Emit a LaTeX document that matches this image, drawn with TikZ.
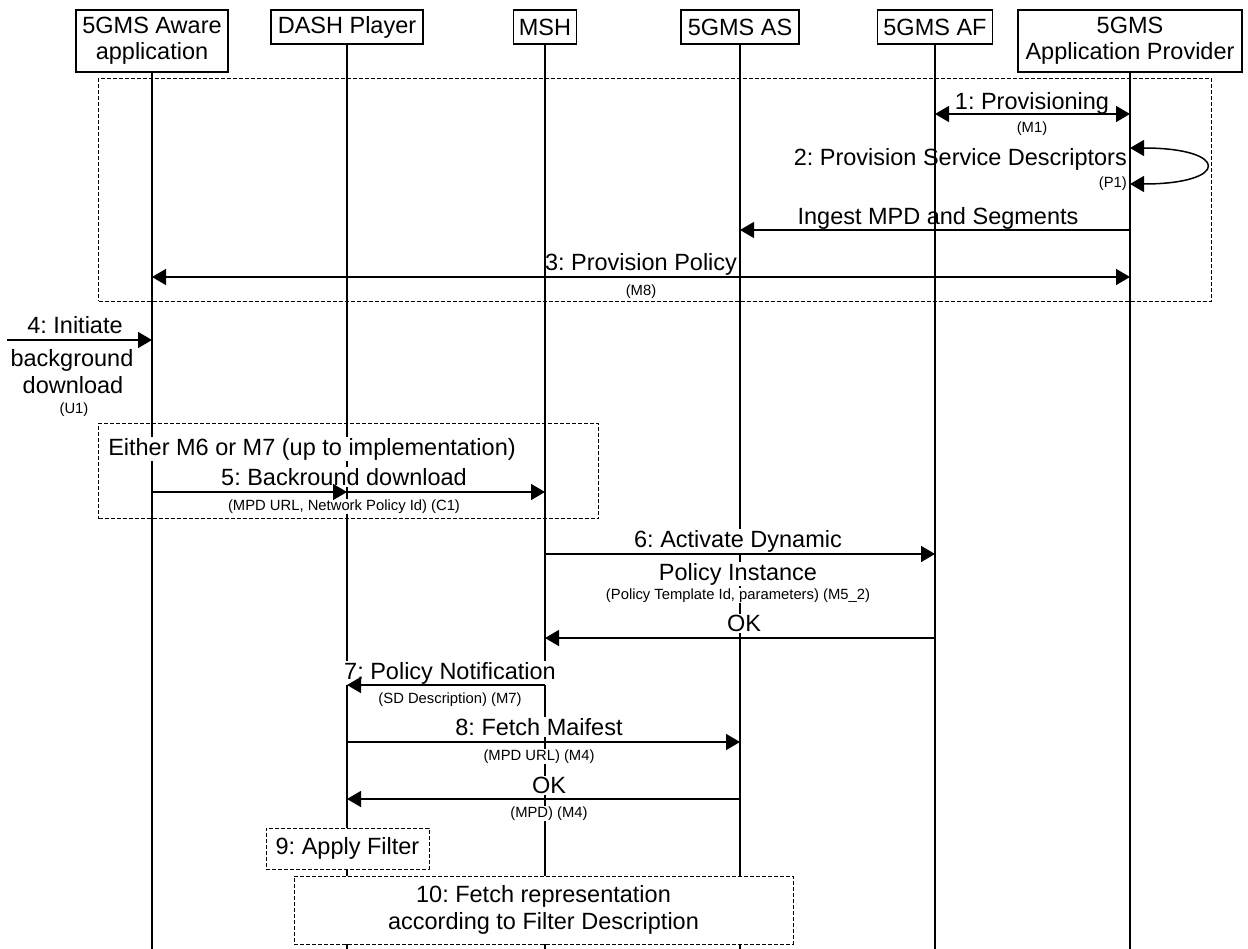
\documentclass[tikz,border=0pt]{standalone}
\usepackage{fontspec}
\setmainfont{Liberation Sans}
\usetikzlibrary{arrows.meta}
\newcommand\lblfont{\fontsize{23.5}{27}\selectfont}
\newcommand\notefont{\fontsize{14.8}{17}\selectfont}
\frenchspacing

\begin{document}
\begin{tikzpicture}[x=1pt,y=-1pt,
  head/.style={draw, line width=1.2pt, font=\lblfont, align=center, anchor=north, inner sep=0pt},
  life/.style={line width=1.2pt},
  tip/.tip={Triangle[length=14pt,width=16pt]},
  msg/.style={line width=1.5pt, -tip},
  twoway/.style={line width=1.5pt, tip-tip},
  frame/.style={draw, line width=1pt, dash pattern=on 4pt off 2pt},
  lbl/.style={font=\lblfont, anchor=base, inner sep=0pt},
  note/.style={font=\notefont, anchor=base, inner sep=0pt},
  cover/.style={fill=white, inner xsep=1pt, inner ysep=1pt},
  actbox/.style={frame, fill=white, font=\lblfont, align=center, inner sep=0pt}
]
\useasboundingbox (0,0) rectangle (1248,949);

% participants
\node[head, minimum width=152, minimum height=62] (app) at (152,9.5) {5GMS Aware\\[-1pt]application};
\node[head, minimum width=152, minimum height=34] (dash) at (347,9.5) {DASH Player};
\node[head, minimum width=63,  minimum height=34] (msh) at (545,9.5) {MSH};
\node[head, minimum width=118, minimum height=34] (as) at (740,9.5) {5GMS AS};
\node[head, minimum width=115, minimum height=34] (af) at (935,9.5) {5GMS AF};
\node[head, minimum width=224, minimum height=62] (ap) at (1130,9.5) {5GMS\\[-1pt]Application Provider};

% lifelines
\foreach \p in {app,dash,msh,as,af,ap}
  \draw[life] (\p.south) -- (\p |- 0,949);

% provisioning group
\node[frame, minimum width=1112.5, minimum height=223, anchor=north west] (prov) at (98,78) {};

\draw[twoway] (af |- 0,114) -- (ap |- 0,114);
\node[lbl] (l1) at (1032,109.4) {1: Provisioning};
\node[note] (n1) at (1032,132.3) {(M1)};

\draw[twoway] (ap |- 0,148) .. controls (1230,148) and (1230,184) .. (ap |- 0,184);
\node[lbl, anchor=base east] (l2) at (1127,165.4) {2: Provision Service Descriptors};
\node[note, anchor=base east] (n2) at (1127,187.3) {(P1)};

\draw[msg] (ap |- 0,230) -- (as |- 0,230);
\node[lbl] (lin) at (938,224.4) {Ingest MPD and Segments};

\draw[twoway] (app |- 0,277) -- (ap |- 0,277);
\node[lbl] (l3) at (641,270.4) {3: Provision Policy};
\node[note] (n3) at (641,295.3) {(M8)};

% user trigger
\coordinate (user) at (7,340);
\draw[msg] (user) -- (app |- user);
\node[lbl] (l4a) at (75,333.4) {4: Initiate};
\node[lbl] (l4b) at (72,366.4) {background};
\node[lbl] (l4c) at (73,393.4) {download};
\node[note] (n4) at (74,413.3) {(U1)};

% background download group
\node[frame, minimum width=500, minimum height=95, anchor=north west] (m67) at (98,423) {};
\node[lbl, cover] (lgrp) at (312,455.4) {Either M6 or M7 (up to implementation)};
\node[lbl, cover] (l5) at (344,485.4) {5: Backround download};
\node[note, cover] (n5) at (344,510.3) {(MPD URL, Network Policy Id) (C1)};
\draw[msg] (app |- 0,492) -- (dash |- 0,492);
\draw[msg] (dash |- 0,492) -- (msh |- 0,492);

% dynamic policy
\node[lbl, cover] (l6a) at (738,547.4) {6: Activate Dynamic};
\node[lbl, cover] (l6b) at (738,580.4) {Policy Instance};
\node[note, cover] (n6) at (738,599.3) {(Policy Template Id, parameters) (M5\_2)};
\draw[msg] (msh |- 0,554) -- (af |- 0,554);
\node[lbl, cover] (lok1) at (744,631.4) {OK};
\draw[msg] (af |- 0,638) -- (msh |- 0,638);

% notification
\node[lbl, cover] (l7) at (450,679.4) {7: Policy Notification};
\node[note, cover] (n7) at (450,703.3) {(SD Description) (M7)};
\draw[msg] (msh |- 0,685) -- (dash |- 0,685);

% manifest
\node[lbl, cover] (l8) at (539,735.4) {8: Fetch Maifest};
\node[note, cover] (n8) at (539,760.3) {(MPD URL) (M4)};
\draw[msg] (dash |- 0,742) -- (as |- 0,742);
\node[lbl, cover] (lok2) at (549,793.4) {OK};
\node[note, cover] (nok2) at (549,817.3) {(MPD) (M4)};
\draw[msg] (as |- 0,799) -- (dash |- 0,799);

% local actions
\node[actbox, minimum width=163, minimum height=41] (filter) at (347.5,848.5) {9: Apply Filter};
\node[actbox, minimum width=499, minimum height=68] (fetch) at (543.5,910) {10: Fetch representation\\according to Filter Description};
\end{tikzpicture}
\end{document}
